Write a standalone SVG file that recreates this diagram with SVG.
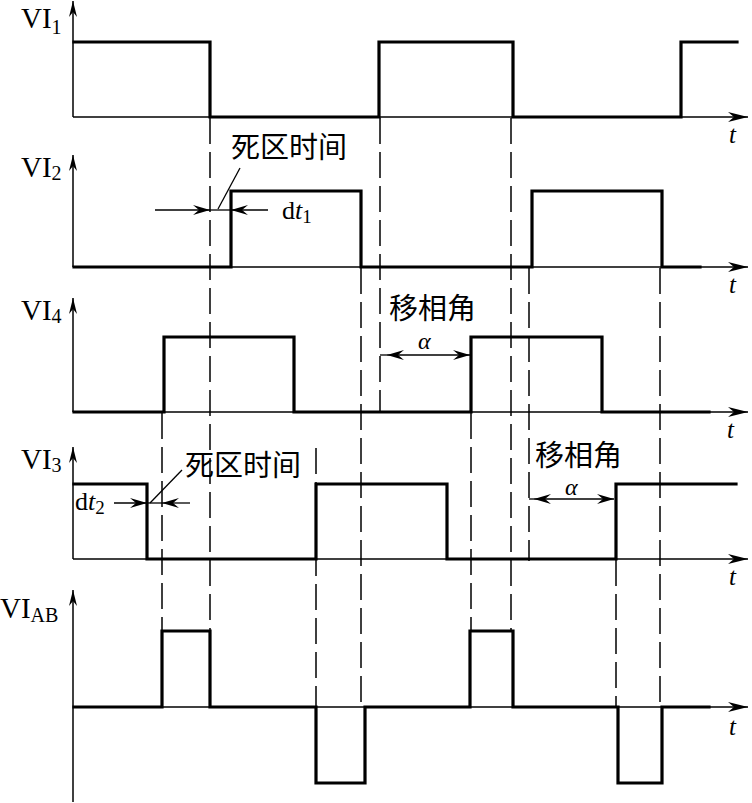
<svg xmlns="http://www.w3.org/2000/svg" width="752" height="803" viewBox="0 0 752 803">
<defs>
<style>
.ax{fill:none;stroke:#000;stroke-width:1.5}
.wave{fill:none;stroke:#000;stroke-width:3.2;stroke-linejoin:miter;stroke-linecap:square}
.guide{fill:none;stroke:#000;stroke-width:1.5;stroke-dasharray:26 8}
.dim{fill:none;stroke:#000;stroke-width:1.3}
.lbl{font-family:"Liberation Serif","Times New Roman",serif;font-size:29px;fill:#000}
.sub{font-size:20px}
.t{font-family:"Liberation Serif","Times New Roman",serif;font-size:25px;font-style:italic;fill:#000}
.cjk{font-family:"Noto Sans CJK SC","Noto Sans",sans-serif;font-size:29px;fill:#000}
.greek{font-family:"Liberation Serif","Times New Roman",serif;font-size:24px;font-style:italic;fill:#000}
.dt{font-family:"Liberation Serif","Times New Roman",serif;font-size:26px;fill:#000}
</style>
<marker id="axArrow" viewBox="-20 -6 21 12" refX="0" refY="0" markerWidth="21" markerHeight="12" markerUnits="userSpaceOnUse" orient="auto">
<path d="M0,0 L-20,-5 L-14,0 L-20,5 Z" fill="#000"/>
</marker>
<marker id="yArrow" viewBox="-16 -5 17 10" refX="0" refY="0" markerWidth="17" markerHeight="10" markerUnits="userSpaceOnUse" orient="auto">
<path d="M0,0 L-16,-4 L-11,0 L-16,4 Z" fill="#000"/>
</marker>
<marker id="dimArrow" viewBox="-17 -6 18 12" refX="0" refY="0" markerWidth="18" markerHeight="12" markerUnits="userSpaceOnUse" orient="auto">
<path d="M0,0 L-17,-5 L-11,0 L-17,5 Z" fill="#000"/>
</marker>
</defs>
<rect width="752" height="803" fill="#fff"/>

<g id="guides">
<line class="guide" x1="162" y1="413" x2="162" y2="631"/>
<line class="guide" x1="210" y1="118" x2="210" y2="631"/>
<line class="guide" x1="316" y1="448" x2="316" y2="707"/>
<line class="guide" x1="361" y1="268" x2="361" y2="707"/>
<line class="guide" x1="380" y1="118" x2="380" y2="412"/>
<line class="guide" x1="471" y1="413" x2="471" y2="631"/>
<line class="guide" x1="511" y1="118" x2="511" y2="631"/>
<line class="guide" x1="529" y1="268" x2="529" y2="561"/>
<line class="guide" x1="616" y1="560" x2="616" y2="707"/>
<line class="guide" x1="660" y1="268" x2="660" y2="707"/>
</g>

<g id="axes">
<line class="ax" x1="73" y1="117" x2="73" y2="1" marker-end="url(#yArrow)"/>
<line class="ax" x1="73" y1="117" x2="748" y2="117" marker-end="url(#axArrow)"/>
<line class="ax" x1="73" y1="267" x2="73" y2="155" marker-end="url(#yArrow)"/>
<line class="ax" x1="73" y1="267" x2="748" y2="267" marker-end="url(#axArrow)"/>
<line class="ax" x1="73" y1="412" x2="73" y2="298" marker-end="url(#yArrow)"/>
<line class="ax" x1="73" y1="412" x2="748" y2="412" marker-end="url(#axArrow)"/>
<line class="ax" x1="73" y1="559" x2="73" y2="447" marker-end="url(#yArrow)"/>
<line class="ax" x1="73" y1="559" x2="748" y2="559" marker-end="url(#axArrow)"/>
<line class="ax" x1="73" y1="802" x2="73" y2="590" marker-end="url(#yArrow)"/>
<line class="ax" x1="73" y1="707" x2="748" y2="707" marker-end="url(#axArrow)"/>
</g>

<g id="wave-VI1">
<path class="wave" d="M74,42 H210 V117 H379 V42 H513 V117 H681 V42 H737"/>
<text class="lbl" x="21" y="28">VI<tspan class="sub" dy="6" font-size="17px">1</tspan></text>
<text class="t" x="729" y="143">t</text>
</g>

<g id="wave-VI2">
<path class="wave" d="M74,267 H231 V191 H361 V267 H532 V191 H662 V267 H700"/>
<text class="lbl" x="21" y="177">VI<tspan class="sub" dy="3">2</tspan></text>
<text class="t" x="729" y="293">t</text>
</g>

<g id="wave-VI4">
<path class="wave" d="M74,412 H164 V337 H294 V412 H471 V337 H602 V412 H709"/>
<text class="lbl" x="21" y="320">VI<tspan class="sub" dy="3">4</tspan></text>
<text class="t" x="727" y="438">t</text>
</g>

<g id="wave-VI3">
<path class="wave" d="M74,484 H147 V559 H316 V484 H447 V559 H616 V484 H736"/>
<text class="lbl" x="21" y="469">VI<tspan class="sub" dy="3">3</tspan></text>
<text class="t" x="729" y="585">t</text>
</g>

<g id="wave-VIAB">
<path class="wave" d="M74,707 H162 V631 H210 V707 H316 V783 H365 V707 H470 V631 H513 V707 H618 V783 H662 V707 H709"/>
<text class="lbl" x="0" y="618">VI<tspan class="sub" dy="4" font-size="22px">AB</tspan></text>
<text class="t" x="729" y="735">t</text>
</g>

<g id="annot-dt1">
<line class="dim" x1="155" y1="210" x2="210" y2="210" marker-end="url(#dimArrow)"/>
<line class="dim" x1="210" y1="210" x2="231" y2="210"/>
<line class="dim" x1="268" y1="210" x2="231" y2="210" marker-end="url(#dimArrow)"/>
<line class="dim" x1="218" y1="209" x2="240" y2="168"/>
<text class="cjk" x="231" y="158">死区时间</text>
<text class="dt" x="282" y="219">d<tspan font-style="italic">t</tspan><tspan dy="4" font-size="19px">1</tspan></text>
</g>

<g id="annot-dt2">
<line class="dim" x1="114" y1="503" x2="147" y2="503" marker-end="url(#dimArrow)"/>
<line class="dim" x1="147" y1="503" x2="162" y2="503"/>
<line class="dim" x1="190" y1="503" x2="162" y2="503" marker-end="url(#dimArrow)"/>
<line class="dim" x1="150" y1="503" x2="182" y2="470"/>
<text class="cjk" x="185" y="476">死区时间</text>
<text class="dt" x="75" y="510">d<tspan font-style="italic">t</tspan><tspan dy="4" font-size="19px">2</tspan></text>
</g>

<g id="annot-alpha1">
<line class="dim" x1="380" y1="355" x2="387" y2="355"/>
<line class="dim" x1="425" y1="355" x2="387" y2="355" marker-end="url(#dimArrow)"/>
<line class="dim" x1="425" y1="355" x2="470" y2="355" marker-end="url(#dimArrow)"/>
<text class="cjk" x="389" y="319">移相角</text>
<text class="greek" x="418" y="349">α</text>
</g>

<g id="annot-alpha2">
<line class="dim" x1="529" y1="499" x2="534" y2="499"/>
<line class="dim" x1="572" y1="499" x2="534" y2="499" marker-end="url(#dimArrow)"/>
<line class="dim" x1="572" y1="499" x2="614" y2="499" marker-end="url(#dimArrow)"/>
<text class="cjk" x="535" y="466">移相角</text>
<text class="greek" x="565" y="495">α</text>
</g>
</svg>
